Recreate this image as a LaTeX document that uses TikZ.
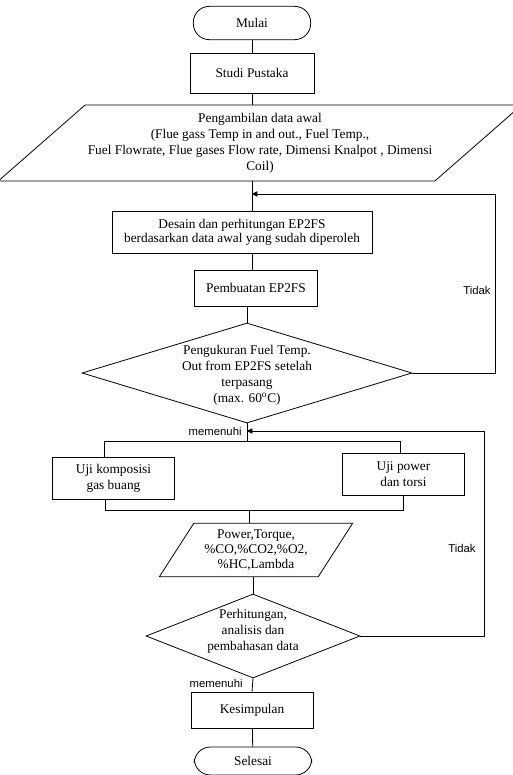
\documentclass[tikz,border=0pt]{standalone}
\usepackage{fontspec}
\setmainfont{Liberation Serif}
\newfontfamily\labelfont{Liberation Sans}
\usetikzlibrary{shapes.geometric,arrows.meta}

\tikzset{
  terminal/.style={draw,rounded corners=12pt,minimum width=88pt,minimum height=25pt},
  process/.style={draw,align=center,inner sep=2pt},
  inout/.style={draw,trapezium,align=center,trapezium stretches=true,inner sep=2pt},
  decision/.style={draw,diamond,inner sep=0pt},
  note/.style={font=\labelfont\fontsize{8.5}{10}\selectfont,inner sep=1.5pt},
  flow/.style={-{Triangle[length=4pt,width=4pt]}}
}

\begin{document}
\begin{tikzpicture}[x=0.75pt,y=-0.75pt,line width=0.6pt,font=\fontsize{10}{12}\selectfont]
\useasboundingbox (0,0) rectangle (513,775);
\node[terminal] (mulai) at (252,23) {Mulai};
\node[process,minimum width=93pt,minimum height=30pt] (studi) at (252,73) {Studi Pustaka};
\node[inout,trapezium left angle=37,trapezium right angle=143,minimum width=378pt,minimum height=57pt] (data) at (260,143) {Pengambilan data awal\\(Flue gass Temp in and out., Fuel Temp.,\\Fuel Flowrate, Flue gases Flow rate, Dimensi Knalpot , Dimensi\\Coil)};
\node[process,minimum width=195pt,minimum height=31.5pt,font=\fontsize{10}{10.5}\selectfont] (desain) at (242,232) {Desain dan perhitungan EP2FS\\berdasarkan data awal yang sudah diperoleh};
\node[process,minimum width=92pt,minimum height=27pt] (buat) at (256,288) {Pembuatan EP2FS};
\node[decision,minimum width=247.5pt,minimum height=75pt] (ukur) at (247,373) {};
\node[align=center] (ukurtxt) at (247,375) {Pengukuran Fuel Temp.\\Out from EP2FS setelah\\terpasang\\(max. 60\textsuperscript{o}C)};
\node[process,minimum width=92pt,minimum height=31.5pt] (ujigas) at (113.5,478) {Uji komposisi\\gas buang};
\node[process,minimum width=92pt,minimum height=31.5pt] (ujipow) at (403.5,474) {Uji power\\dan torsi};
\node[inout,trapezium left angle=57,trapezium right angle=123,minimum width=145pt,minimum height=40pt,font=\fontsize{10}{11.25}\selectfont] (hasil) at (256,550) {Power,Torque,\\\%CO,\%CO2,\%O2,\\\%HC,Lambda};
\node[decision,minimum width=160.5pt,minimum height=63pt] (analisis) at (253,636) {};
\node[align=center] (analisistxt) at (253,631) {Perhitungan,\\analisis dan\\pembahasan data};
\node[process,minimum width=91.5pt,minimum height=27pt] (simpul) at (252,710) {Kesimpulan};
\node[terminal,minimum height=21pt] (selesai) at (253,761) {Selesai};
\coordinate (m1) at (252,194);
\coordinate (m2) at (247,431);
\coordinate (splitL) at (104,441);
\coordinate (splitC) at (247,441);
\coordinate (splitR) at (400,441);
\coordinate (joinL) at (105,510);
\coordinate (joinC) at (249,510);
\coordinate (joinR) at (403,510);
\draw (mulai) -- (studi);
\draw (studi.south) -- (studi.south |- data.north);
\draw (data.south -| m1) -- (desain.north -| m1);
\draw (desain.south -| m1) -- (buat.north -| m1);
\draw (buat.south -| ukur) -- (ukur.north);
\draw[flow] (ukur.east) -- ++(83,0) |- (m1);
\node[note,anchor=east] (tidak1) at (493,290) {Tidak};
\draw (ukur.south) -- (splitC);
\draw (splitL) -- (splitR);
\draw (splitL) -- (splitL |- ujigas.north);
\draw (splitR) -- (splitR |- ujipow.north);
\draw (ujigas.south -| joinL) -- (joinL) -- (joinR) -- (ujipow.south -| joinR);
\draw (joinC) -- (joinC |- hasil.north);
\draw (hasil.south -| analisis) -- (analisis.north);
\draw[flow] (analisis.east) -- ++(124,0) |- (m2);
\node[note,anchor=east] (ok1) at (244,431) {memenuhi};
\node[note] (tidak2) at (462,548) {Tidak};
\draw (analisis.south) -- (simpul.north);
\node[note,anchor=east] (ok2) at (245,683) {memenuhi};
\draw (simpul) -- (selesai);
\end{tikzpicture}
\end{document}
